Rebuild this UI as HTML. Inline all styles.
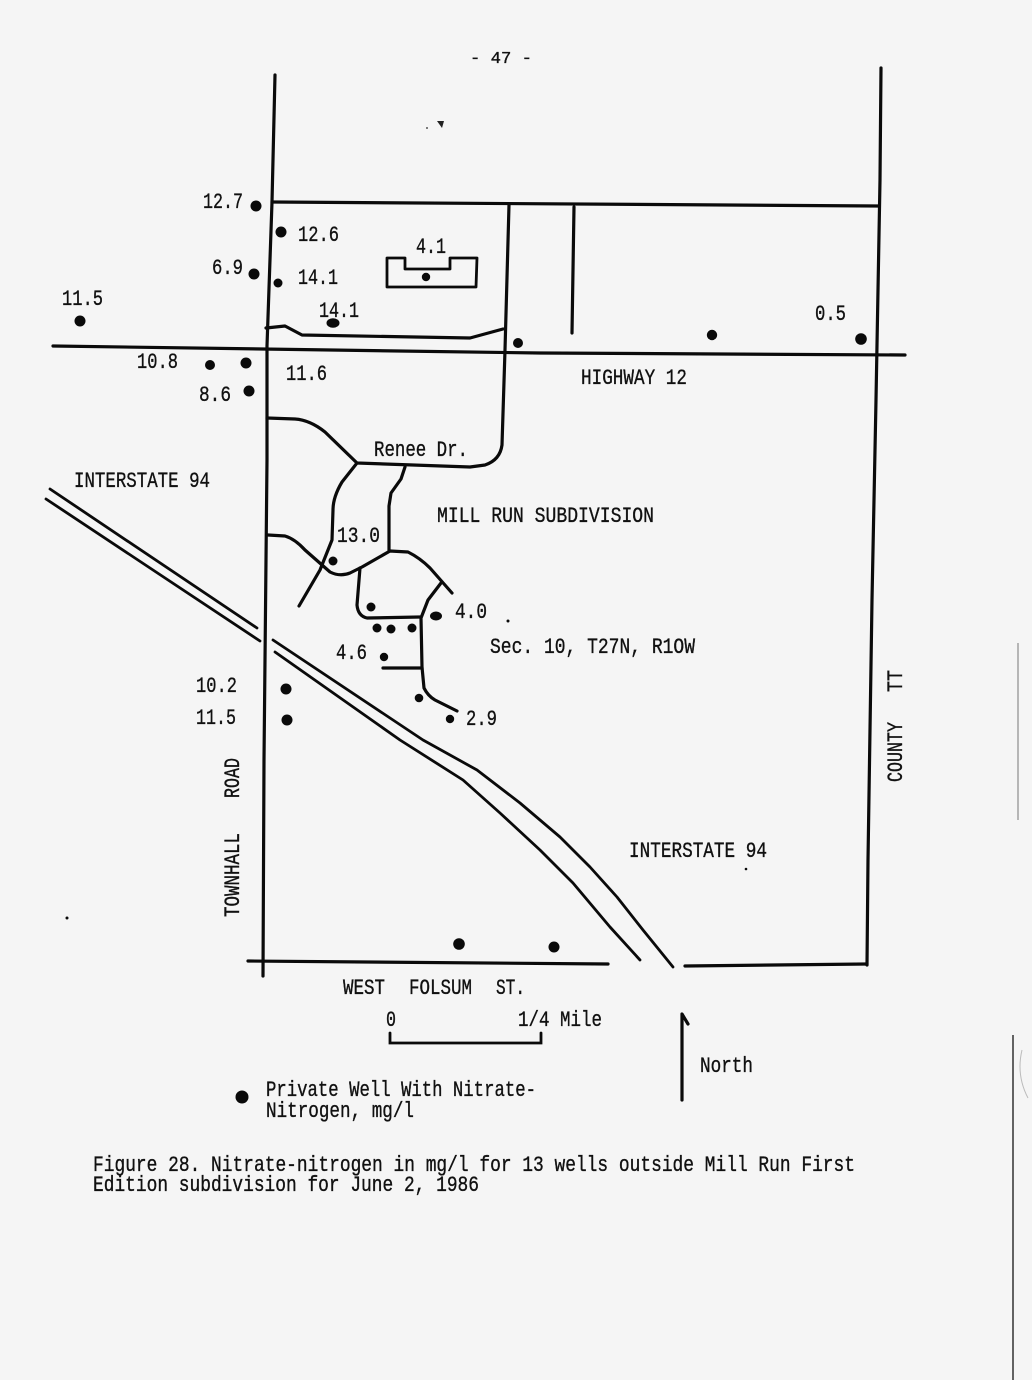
<!DOCTYPE html>
<html>
<head>
<meta charset="utf-8">
<style>
  html, body { margin:0; padding:0; background:#f5f5f5; }
  svg { display:block; }
  text { font-family: "Liberation Mono", monospace; fill:#111; font-size:22px; stroke:#111; stroke-width:0.35px; }
</style>
</head>
<body>
<svg width="1032" height="1380" viewBox="0 0 1032 1380" xmlns="http://www.w3.org/2000/svg">
  <rect x="0" y="0" width="1032" height="1380" fill="#f5f5f5"/>

  <!-- page number -->
  <text x="470" y="63" textLength="62" lengthAdjust="spacingAndGlyphs" style="font-size:17px">- 47 -</text>
  <path d="M437,121 L444,121 L442,128 Z" fill="#222"/>
  <circle cx="427" cy="128" r="1" fill="#555"/>

  <g fill="none" stroke="#0a0a0a" stroke-width="3.2" stroke-linecap="round" stroke-linejoin="round">
    <!-- Townhall Road -->
    <path d="M275,75 L272,202 L267,346 L267,460 L264,760 L263,976"/>
    <!-- top boundary -->
    <path d="M272,202 L878,206"/>
    <!-- County TT -->
    <path d="M881,68 L880,180 L876,400 L872,600 L868,860 L867,965"/>
    <!-- Highway 12 -->
    <path d="M53,346 L540,353 L905,355"/>
    <!-- short vertical -->
    <path d="M574,207 L572,333"/>
    <!-- inner vertical + Renee Dr + road to townhall -->
    <path d="M509,205 L505,350 L502,445 Q500,460 485,465 L470,467 L357,463 L325,432 Q310,420 295,419 L267,418"/>
    <!-- north box road -->
    <path d="M266,328 L285,326 L302,335 L470,338 L503,329"/>
    <!-- subdivision roads -->
    <path d="M357,463 L342,482 Q333,497 333,510 L332,540 L320,570 L299,606"/>
    <path d="M405,467 L401,479 L391,493 L389,506 L389,550"/>
    <path d="M268,535 L285,536 Q295,539 305,550 L330,572 Q340,577 350,573 L362,567 L390,551 L408,552 Q420,558 430,568 L452,593"/>
    <path d="M360,568 L357,605 Q358,616 367,618 L420,617"/>
    <path d="M441,583 L428,600 L421,618 L422,667 L424,688 Q428,696 435,700 L457,711"/>
    <path d="M383,668 L422,668"/>
    <!-- West Folsum St -->
    <path d="M248,961 L608,964"/>
    <path d="M685,966 L867,964"/>
  </g>

  <!-- building -->
  <path d="M387,258 L405,258 L405,269 L450,269 L450,258 L477,258 L476,287 L387,287 Z" fill="none" stroke="#0a0a0a" stroke-width="2.8" stroke-linejoin="round"/>

  <!-- Interstate 94 -->
  <g fill="none" stroke="#0a0a0a" stroke-width="2.8" stroke-linecap="round" stroke-linejoin="round">
    <path d="M50,489 L257,628"/>
    <path d="M46,499 L260,641"/>
    <path d="M273,640 L423,740 L477,770 L520,803 L560,837 L590,867 L617,897 L643,930 L673,967"/>
    <path d="M275,652 L400,740 L463,780 L500,813 L540,850 L573,883 L610,927 L640,960"/>
  </g>

  <!-- wells -->
  <g fill="#0a0a0a">
    <circle cx="256" cy="206" r="5.5"/>
    <circle cx="281" cy="232" r="5.5"/>
    <circle cx="254" cy="274" r="5.5"/>
    <circle cx="278" cy="283" r="4.5"/>
    <circle cx="80" cy="321" r="5.5"/>
    <ellipse cx="333" cy="323" rx="6.5" ry="4.8"/>
    <circle cx="426" cy="277" r="4.2"/>
    <circle cx="518" cy="343" r="5"/>
    <circle cx="712" cy="335" r="5.2"/>
    <circle cx="861" cy="339" r="5.8"/>
    <circle cx="210" cy="365" r="5"/>
    <circle cx="246" cy="363" r="5.5"/>
    <circle cx="249" cy="391" r="5.5"/>
    <circle cx="333" cy="561" r="4.5"/>
    <circle cx="371" cy="607" r="4.5"/>
    <ellipse cx="436" cy="616" rx="6" ry="4.5"/>
    <circle cx="377" cy="628" r="4.5"/>
    <circle cx="391" cy="629" r="4.5"/>
    <circle cx="412" cy="628" r="4.5"/>
    <circle cx="384" cy="657" r="4.2"/>
    <circle cx="419" cy="698" r="4.3"/>
    <circle cx="450" cy="719" r="4.2"/>
    <circle cx="286" cy="689" r="5.5"/>
    <circle cx="287" cy="720" r="5.5"/>
    <circle cx="459" cy="944" r="5.8"/>
    <circle cx="554" cy="947" r="5.5"/>
    <circle cx="508" cy="621" r="1.5"/>
    <circle cx="746" cy="869" r="1.3"/>
    <circle cx="67" cy="918" r="1.5"/>
  </g>

  <!-- labels -->
  <text x="203" y="208" textLength="40" lengthAdjust="spacingAndGlyphs">12.7</text>
  <text x="298" y="241" textLength="41" lengthAdjust="spacingAndGlyphs">12.6</text>
  <text x="416" y="253" textLength="30" lengthAdjust="spacingAndGlyphs">4.1</text>
  <text x="212" y="274" textLength="31" lengthAdjust="spacingAndGlyphs">6.9</text>
  <text x="298" y="284" textLength="40" lengthAdjust="spacingAndGlyphs">14.1</text>
  <text x="62" y="305" textLength="41" lengthAdjust="spacingAndGlyphs">11.5</text>
  <text x="319" y="317" textLength="40" lengthAdjust="spacingAndGlyphs">14.1</text>
  <text x="815" y="320" textLength="31" lengthAdjust="spacingAndGlyphs">0.5</text>
  <text x="137" y="368" textLength="41" lengthAdjust="spacingAndGlyphs">10.8</text>
  <text x="286" y="380" textLength="41" lengthAdjust="spacingAndGlyphs">11.6</text>
  <text x="199" y="401" textLength="32" lengthAdjust="spacingAndGlyphs">8.6</text>
  <text x="581" y="384" textLength="106" lengthAdjust="spacingAndGlyphs">HIGHWAY 12</text>
  <text x="374" y="456" textLength="94" lengthAdjust="spacingAndGlyphs">Renee Dr.</text>
  <text x="74" y="487" textLength="136" lengthAdjust="spacingAndGlyphs">INTERSTATE 94</text>
  <text x="437" y="522" textLength="217" lengthAdjust="spacingAndGlyphs">MILL RUN SUBDIVISION</text>
  <text x="337" y="542" textLength="43" lengthAdjust="spacingAndGlyphs">13.0</text>
  <text x="455" y="618" textLength="32" lengthAdjust="spacingAndGlyphs">4.0</text>
  <text x="490" y="653" textLength="205" lengthAdjust="spacingAndGlyphs">Sec. 10, T27N, R1OW</text>
  <text x="336" y="659" textLength="31" lengthAdjust="spacingAndGlyphs">4.6</text>
  <text x="196" y="692" textLength="41" lengthAdjust="spacingAndGlyphs">10.2</text>
  <text x="466" y="725" textLength="31" lengthAdjust="spacingAndGlyphs">2.9</text>
  <text x="196" y="724" textLength="40" lengthAdjust="spacingAndGlyphs">11.5</text>
  <text x="629" y="857" textLength="138" lengthAdjust="spacingAndGlyphs">INTERSTATE 94</text>

  <!-- rotated road labels -->
  <text transform="translate(239,798) rotate(-90)" x="0" y="0" textLength="40" lengthAdjust="spacingAndGlyphs">ROAD</text>
  <text transform="translate(239,917) rotate(-90)" x="0" y="0" textLength="84" lengthAdjust="spacingAndGlyphs">TOWNHALL</text>
  <text transform="translate(902,782) rotate(-90)" x="0" y="0" textLength="60" lengthAdjust="spacingAndGlyphs">COUNTY</text>
  <text transform="translate(902,692) rotate(-90)" x="0" y="0" textLength="22" lengthAdjust="spacingAndGlyphs">TT</text>

  <text x="343" y="994" textLength="42" lengthAdjust="spacingAndGlyphs">WEST</text>
  <text x="409" y="994" textLength="63" lengthAdjust="spacingAndGlyphs">FOLSUM</text>
  <text x="496" y="994" textLength="29" lengthAdjust="spacingAndGlyphs">ST.</text>

  <!-- scale -->
  <text x="386" y="1026" textLength="10" lengthAdjust="spacingAndGlyphs">0</text>
  <text x="518" y="1026" textLength="84" lengthAdjust="spacingAndGlyphs">1/4 Mile</text>
  <path d="M390,1033 L390,1043 L541,1043 L541,1033" fill="none" stroke="#0a0a0a" stroke-width="2.8" stroke-linecap="round"/>

  <!-- north arrow -->
  <path d="M682,1100 L682,1014 L688,1024" fill="none" stroke="#0a0a0a" stroke-width="3.2" stroke-linecap="round" stroke-linejoin="round"/>
  <text x="700" y="1072" textLength="53" lengthAdjust="spacingAndGlyphs">North</text>

  <!-- legend -->
  <circle cx="242" cy="1097" r="6.5" fill="#0a0a0a"/>
  <text x="266" y="1096" textLength="270" lengthAdjust="spacingAndGlyphs">Private Well With Nitrate-</text>
  <text x="266" y="1117" textLength="148" lengthAdjust="spacingAndGlyphs">Nitrogen, mg/l</text>

  <!-- caption -->
  <text x="93" y="1171" textLength="762" lengthAdjust="spacingAndGlyphs">Figure 28. Nitrate-nitrogen in mg/l for 13 wells outside Mill Run First</text>
  <text x="93" y="1191" textLength="386" lengthAdjust="spacingAndGlyphs">Edition subdivision for June 2, 1986</text>

  <!-- edge artifacts -->
  <path d="M1018,643 L1018,820" stroke="#777" stroke-width="1" fill="none"/>
  <path d="M1013,1035 L1013,1380" stroke="#333" stroke-width="1.5" fill="none"/>
  <path d="M1022,1050 Q1016,1075 1028,1098" stroke="#bbb" stroke-width="1" fill="none"/>
</svg>
</body>
</html>
